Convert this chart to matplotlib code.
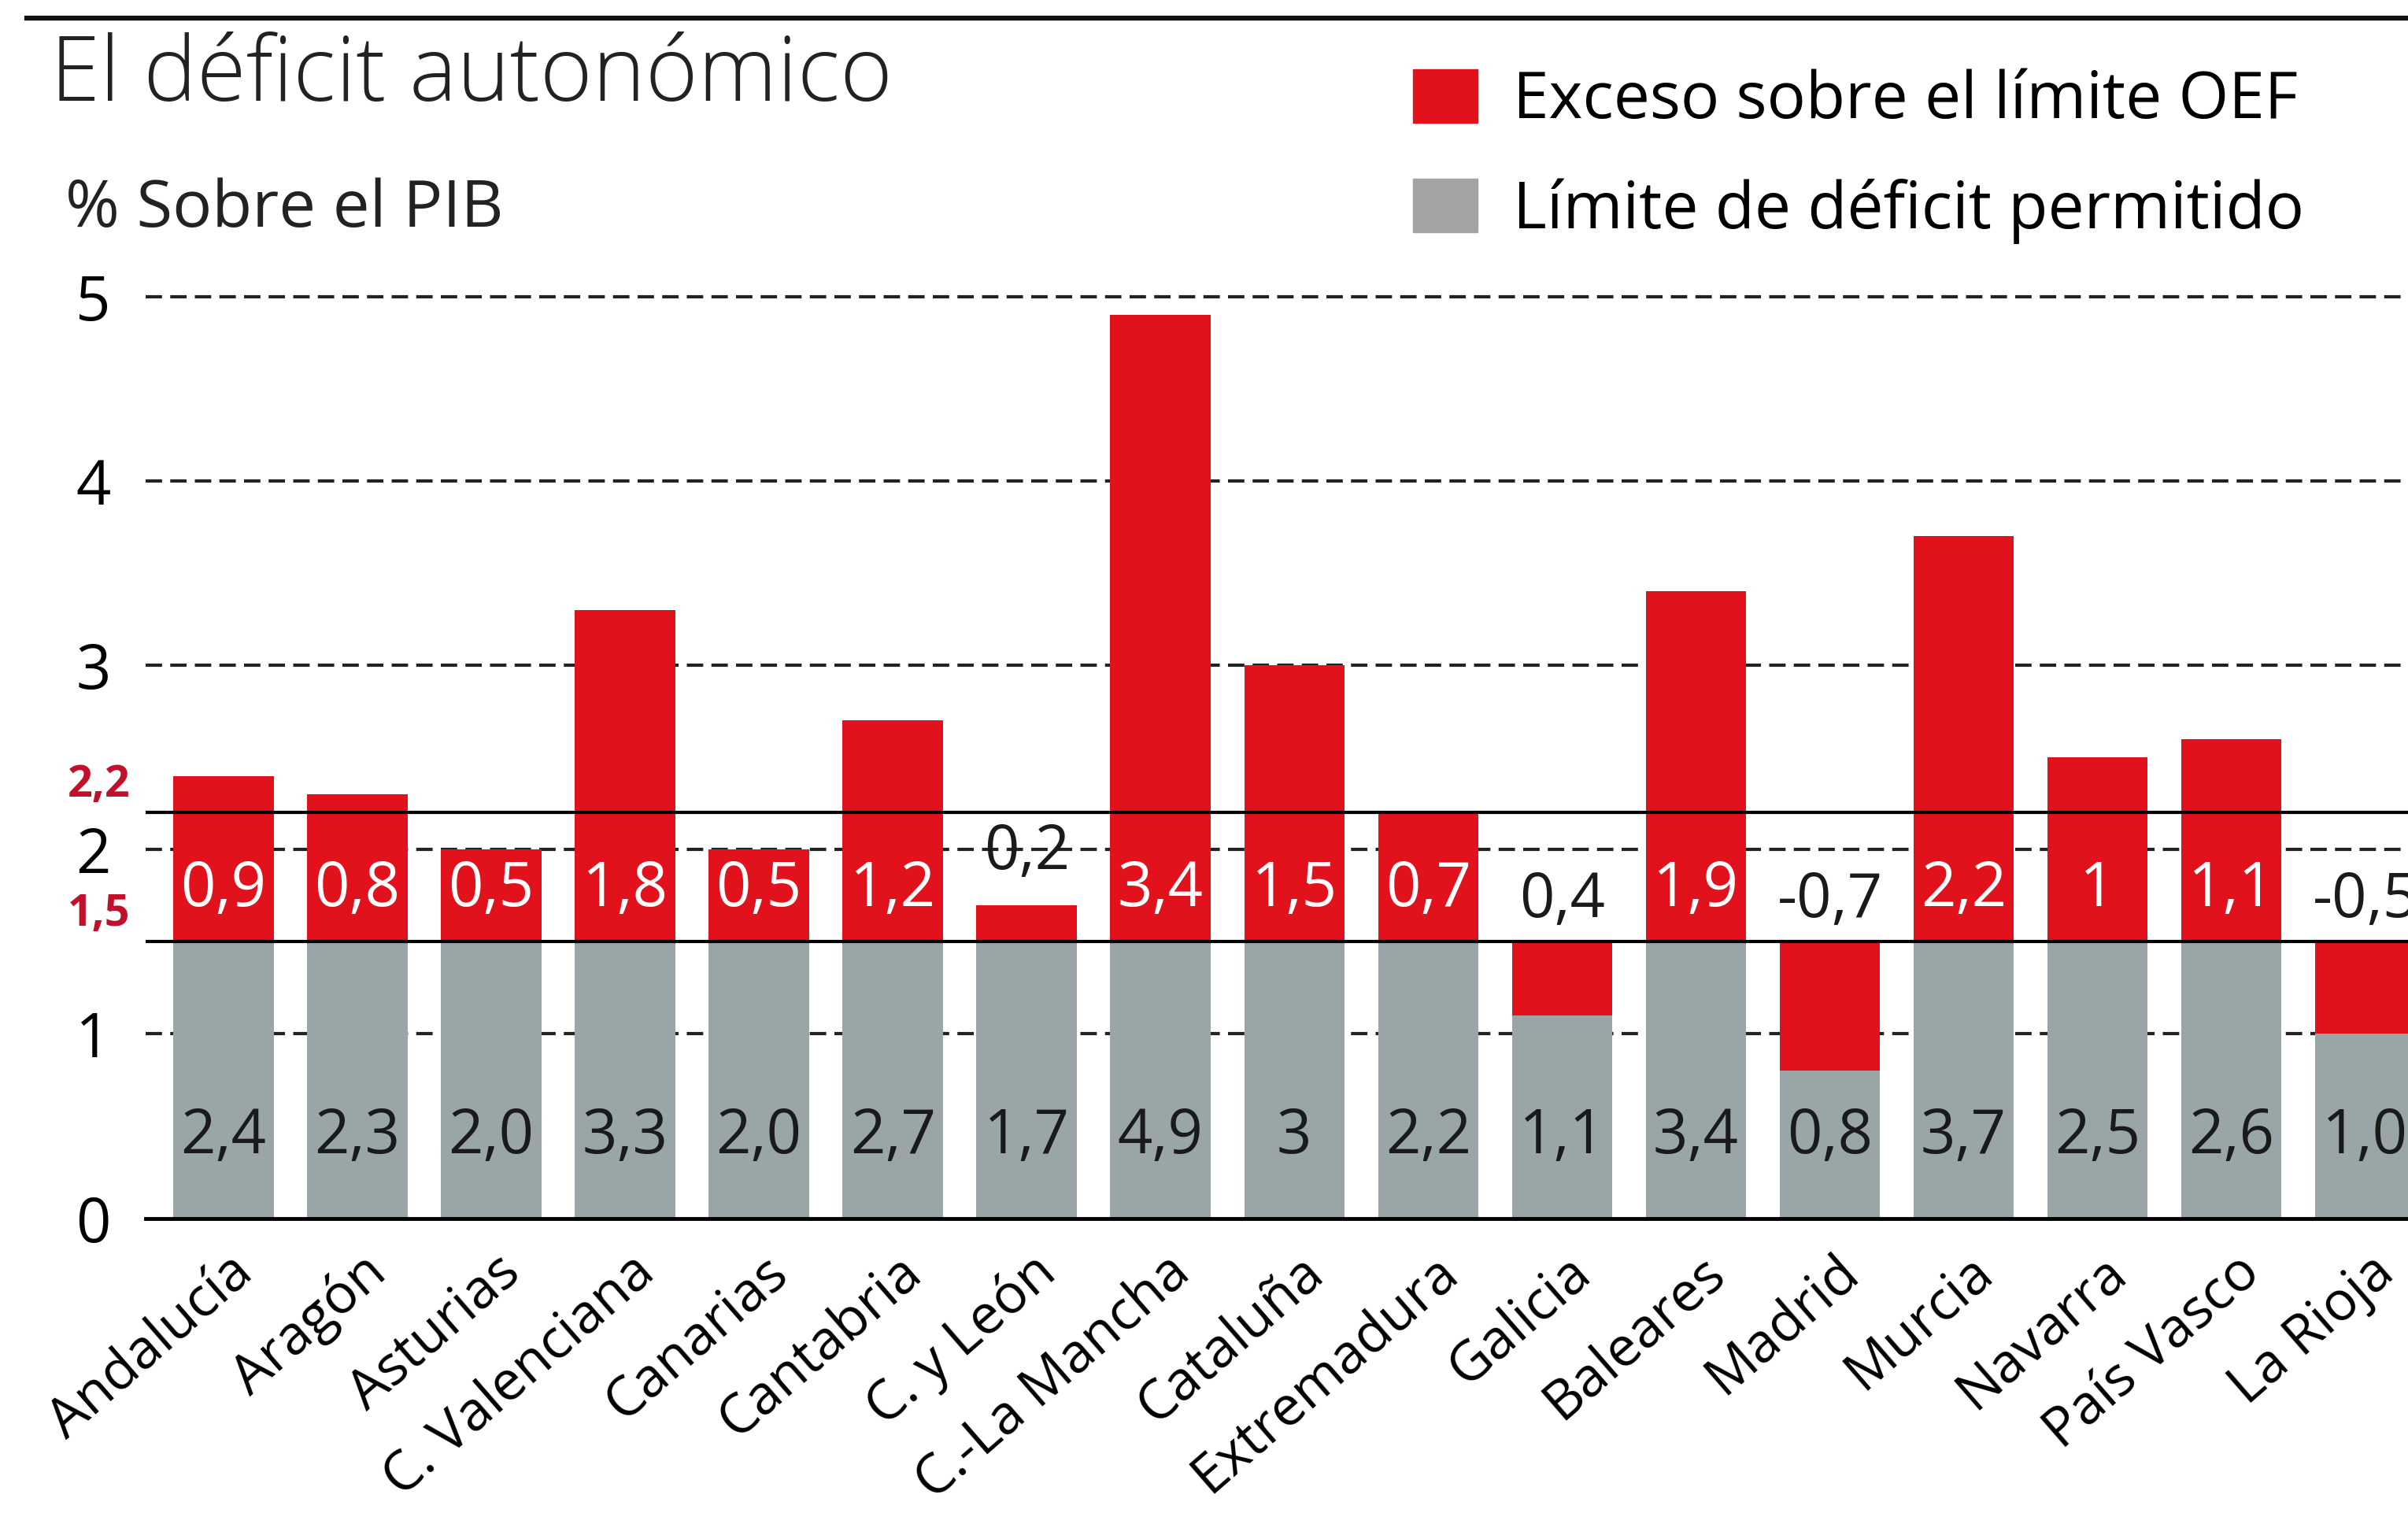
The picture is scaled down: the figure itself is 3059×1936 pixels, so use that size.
import numpy as np
import matplotlib
matplotlib.use('Agg')
import matplotlib.pyplot as plt
from matplotlib.patches import Patch
from matplotlib.lines import Line2D
import matplotlib.transforms as mtransforms

plt.rcParams['font.family'] = ['Open Sans', 'DejaVu Sans']

regions = ['Andalucía', 'Aragón', 'Asturias', 'C. Valenciana', 'Canarias',
           'Cantabria', 'C. y León', 'C.-La Mancha', 'Cataluña', 'Extremadura',
           'Galicia', 'Baleares', 'Madrid', 'Murcia', 'Navarra', 'País Vasco',
           'La Rioja']
deficit = [2.4, 2.3, 2.0, 3.3, 2.0, 2.7, 1.7, 4.9, 3.0, 2.2,
           1.1, 3.4, 0.8, 3.7, 2.5, 2.6, 1.0]
limite = 1.5
limite_2 = 2.2
deficit_labels = ['2,4', '2,3', '2,0', '3,3', '2,0', '2,7', '1,7', '4,9', '3', '2,2',
                  '1,1', '3,4', '0,8', '3,7', '2,5', '2,6', '1,0']
exceso_labels = ['0,9', '0,8', '0,5', '1,8', '0,5', '1,2', '0,2', '3,4', '1,5', '0,7',
                 '0,4', '1,9', '-0,7', '2,2', '1', '1,1', '-0,5']

RED = '#e2121d'
GRAY = '#9aa5a8'

fig = plt.figure(figsize=(30.59, 19.36), dpi=100)
ax = fig.add_axes([0.0606, 0.2006, 0.9394, 0.629])

x = np.arange(len(regions))
deficit = np.array(deficit)
base = np.minimum(deficit, limite)
diff = np.abs(deficit - limite)

# grid behind the bars
for v in [1, 2, 3, 4, 5]:
    ax.axhline(v, color='#222222', lw=3, ls=(0, (5, 2.5)), zorder=0)

ax.bar(x, base, width=0.75, color=GRAY, zorder=2)
ax.bar(x, diff, bottom=base, width=0.75, color=RED, zorder=2)

# limits
ax.axhline(limite, color='black', lw=3, zorder=3)
ax.axhline(limite_2, color='black', lw=3, zorder=3)

for i in range(len(regions)):
    ax.text(x[i], 0.44, deficit_labels[i], ha='center', va='center',
            fontsize=56, color='#1a1a1a', zorder=4)
    if deficit[i] > limite and diff[i] >= 0.5:
        ax.text(x[i], 1.78, exceso_labels[i], ha='center', va='center',
                fontsize=56, color='white', zorder=4)
    elif deficit[i] > limite:
        ax.text(x[i], 1.98, exceso_labels[i], ha='center', va='center',
                fontsize=56, color='#1a1a1a', zorder=4)
    else:
        ax.text(x[i], 1.72, exceso_labels[i], ha='center', va='center',
                fontsize=56, color='#1a1a1a', zorder=4)

trans = mtransforms.blended_transform_factory(ax.transAxes, ax.transData)
ax.text(-0.007, limite_2 + 0.03, '2,2', transform=trans, ha='right', va='bottom',
        fontsize=40, color='#c0102a', fontweight='bold')
ax.text(-0.007, limite + 0.03, '1,5', transform=trans, ha='right', va='bottom',
        fontsize=40, color='#c0102a', fontweight='bold')

ax.set_xlim(-0.58, 16.32)
ax.set_ylim(0, 5.2)
ax.set_yticks([0, 1, 2, 3, 4, 5])
ax.set_yticklabels(['0', '1', '2', '3', '4', '5'], fontsize=56)
ax.tick_params(axis='y', length=0, pad=32)
ax.set_xticks(x)
ax.set_xticklabels(regions, rotation=41, ha='right', va='top',
                   rotation_mode='anchor', fontsize=50)
ax.tick_params(axis='x', length=0, pad=24)
offset = mtransforms.ScaledTranslation(0.05, 0, fig.dpi_scale_trans)
for lab in ax.get_xticklabels():
    lab.set_transform(lab.get_transform() + offset)

for s in ['top', 'right', 'left']:
    ax.spines[s].set_visible(False)
ax.spines['bottom'].set_linewidth(3.5)
ax.spines['bottom'].set_zorder(5)

# header
fig.add_artist(Line2D([0.011, 1.0], [0.988, 0.988], color='#111111', lw=4.5))
fig.text(0.021, 0.934, 'El déficit autonómico', fontsize=82, va='baseline',
         ha='left', color='#222222', fontweight='light')
fig.text(0.027, 0.851, '% Sobre el PIB', fontsize=60, va='baseline',
         ha='left', color='#222222')

handles = [Patch(color=RED, label='Exceso sobre el límite OEF'),
           Patch(color='#a3a3a3', label='Límite de déficit permitido')]
ax.legend(handles=handles, loc='upper left', bbox_to_anchor=(0.5867, 0.9546),
          bbox_transform=fig.transFigure, frameon=False, fontsize=59,
          handlelength=1.0, handleheight=0.9, handletextpad=0.55,
          labelspacing=0.68, borderpad=0, borderaxespad=0)

fig.savefig('out.png', dpi=100, facecolor='white')
